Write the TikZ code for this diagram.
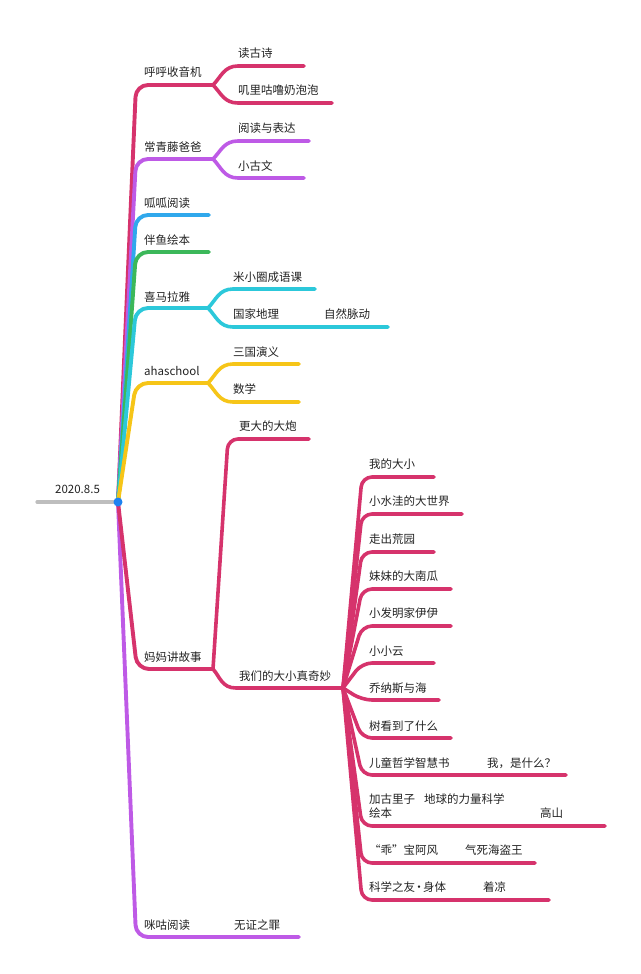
\documentclass[tikz,border=0pt]{standalone}
\usepackage{fontspec}
\setmainfont{Noto Sans CJK SC}
\definecolor{crim}{RGB}{214,51,108}
\definecolor{purp}{RGB}{190,90,230}
\definecolor{blu}{RGB}{48,168,236}
\definecolor{grn}{RGB}{60,184,90}
\definecolor{cyn}{RGB}{44,200,218}
\definecolor{yel}{RGB}{246,197,24}
\definecolor{gry}{RGB}{190,190,190}
\definecolor{dotc}{RGB}{30,130,240}
\definecolor{txt}{RGB}{34,34,34}
\begin{document}
\begin{tikzpicture}[x=1pt,y=-1pt,
 lbl/.style={anchor=west,inner sep=0pt,text=txt,font=\fontsize{11.5}{13}\selectfont},
 br/.style={line width=3.9pt,line cap=round,line join=round,rounded corners=12pt},
 sub/.style={line width=3.6pt,line cap=round,line join=round},
 fan/.style={line width=3.6pt,line cap=round,line join=round,rounded corners=10pt}]
\useasboundingbox (0,0) rectangle (640,974);
% root
\coordinate (root) at (118,502);
\coordinate (rl) at (37,502);
\draw[line width=3.2pt,gry,line cap=round] (rl) -- (root);
\node[lbl] (r) at (55,489) {2020.8.5};

% 呼呼收音机
\coordinate (b1) at (213,85);
\coordinate (e11) at (304,66);
\coordinate (e12) at (332,103);
\draw[br,crim] (root) -- (136,85) -- (b1);
\draw[sub,crim] (b1) .. controls (221,77) and (224,66) .. (238,66) -- (e11);
\draw[sub,crim] (b1) .. controls (221,93) and (224,103) .. (238,103) -- (e12);
\node[lbl] (n1) at (144,72) {呼呼收音机};
\node[lbl] (n11) at (238,53) {读古诗};
\node[lbl] (n12) at (238,90) {叽里咕噜奶泡泡};

% 常青藤爸爸
\coordinate (b2) at (213,159);
\coordinate (e21) at (309,141);
\coordinate (e22) at (304,178);
\draw[br,purp] (root) -- (136,159) -- (b2);
\draw[sub,purp] (b2) .. controls (221,151) and (224,141) .. (238,141) -- (e21);
\draw[sub,purp] (b2) .. controls (221,167) and (224,178) .. (238,178) -- (e22);
\node[lbl] (n2) at (144,147) {常青藤爸爸};
\node[lbl] (n21) at (238,128) {阅读与表达};
\node[lbl] (n22) at (238,166) {小古文};

% 呱呱阅读
\coordinate (e3) at (209,215);
\draw[br,blu] (root) -- (136,215) -- (e3);
\node[lbl] (n3) at (144,203) {呱呱阅读};

% 伴鱼绘本
\coordinate (e4) at (209,252);
\draw[br,grn] (root) -- (136,252) -- (e4);
\node[lbl] (n4) at (144,240) {伴鱼绘本};

% 喜马拉雅
\coordinate (b5) at (208,308);
\coordinate (e51) at (315,289);
\coordinate (e52) at (388,327);
\draw[br,cyn] (root) -- (136,308) -- (b5);
\draw[sub,cyn] (b5) .. controls (216,300) and (219,289) .. (233,289) -- (e51);
\draw[sub,cyn] (b5) .. controls (216,316) and (219,327) .. (233,327) -- (e52);
\node[lbl] (n5) at (144,297) {喜马拉雅};
\node[lbl] (n51) at (233,277) {米小圈成语课};
\node[lbl] (n52) at (233,314) {国家地理};
\node[lbl] (n52b) at (324,314) {自然脉动};

% ahaschool
\coordinate (b6) at (208,383);
\coordinate (e61) at (299,364);
\coordinate (e62) at (299,402);
\draw[br,yel] (root) -- (136,383) -- (b6);
\draw[sub,yel] (b6) .. controls (216,375) and (219,364) .. (233,364) -- (e61);
\draw[sub,yel] (b6) .. controls (216,391) and (219,402) .. (233,402) -- (e62);
\node[lbl] (n6) at (144,371) {ahaschool};
\node[lbl] (n61) at (233,352) {三国演义};
\node[lbl] (n62) at (233,389) {数学};

% 咪咕阅读
\coordinate (e8) at (299,937);
\draw[br,purp] (root) -- (136,937) -- (e8);
\node[lbl] (n8) at (144,925) {咪咕阅读};
\node[lbl] (n8b) at (234,925) {无证之罪};

% 妈妈讲故事
\coordinate (b7) at (213,669);
\coordinate (e71) at (309,439);
\coordinate (b72) at (343,688);
\draw[br,crim] (root) -- (137,669) -- (b7);
\draw[fan,crim] (b7) -- (228,439) -- (e71);
\draw[sub,crim] (b7) .. controls (220,677) and (222,688) .. (236,688) -- (b72);
\node[lbl] (n7) at (144,657) {妈妈讲故事};
\node[lbl] (n71) at (239,426) {更大的大炮};
\node[lbl] (n72) at (239,676) {我们的大小真奇妙};

% children of 我们的大小真奇妙
\foreach \yy/\xe/\nm in {477/434/c1,514/462/c2,552/434/c3,589/451/c4,626/451/c5,663/434/c6,700/439/c7,738/451/c8,775/566/c9,826/605/c10,863/535/c11,900/549/c12}{
  \coordinate (\nm) at (\xe,\yy);
  \draw[fan,crim] (b72) -- (362,\yy) -- (\nm);
}
\node[lbl] (t1) at (369,464) {我的大小};
\node[lbl] (t2) at (369,501) {小水洼的大世界};
\node[lbl] (t3) at (369,539) {走出荒园};
\node[lbl] (t4) at (369,576) {妹妹的大南瓜};
\node[lbl] (t5) at (369,613) {小发明家伊伊};
\node[lbl] (t6) at (369,651) {小小云};
\node[lbl] (t7) at (369,688) {乔纳斯与海};
\node[lbl] (t8) at (369,726) {树看到了什么};
\node[lbl] (t9) at (369,763) {儿童哲学智慧书};
\node[lbl] (t9b) at (487,763) {我，是什么？};
\node[lbl] (t10) at (369,799) {加古里子};
\node[lbl] (t10a) at (424,799) {地球的力量科学};
\node[lbl] (t10b) at (369,813) {绘本};
\node[lbl] (t10c) at (540,813) {高山};
\node[lbl] (t11) at (369,850) {“乖”宝阿风};
\node[lbl] (t11b) at (465,850) {气死海盗王};
\node[lbl] (t12) at (369,887) {科学之友\makebox[8pt]{·}身体};
\node[lbl] (t12b) at (483,887) {着凉};

\fill[dotc] (root) circle (4.5);
\end{tikzpicture}
\end{document}
